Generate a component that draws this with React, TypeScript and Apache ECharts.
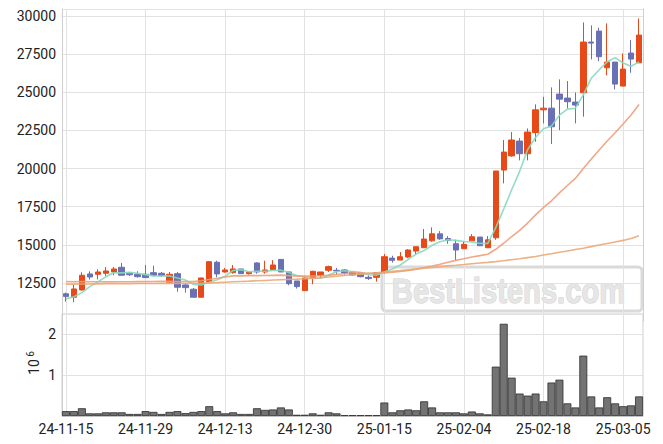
import React, { useEffect, useRef } from "react";
import * as echarts from "echarts";

const dates = [
  "24-11-15", "24-11-18", "24-11-19", "24-11-20", "24-11-21", "24-11-22",
  "24-11-25", "24-11-26", "24-11-27", "24-11-28", "24-11-29",
  "24-12-02", "24-12-03", "24-12-04", "24-12-05", "24-12-06",
  "24-12-09", "24-12-10", "24-12-11", "24-12-12", "24-12-13",
  "24-12-16", "24-12-17", "24-12-18", "24-12-19", "24-12-20",
  "24-12-23", "24-12-24", "24-12-26", "24-12-27", "24-12-30",
  "25-01-02", "25-01-03", "25-01-06", "25-01-07", "25-01-08", "25-01-09", "25-01-10",
  "25-01-13", "25-01-14", "25-01-15", "25-01-16", "25-01-17",
  "25-01-20", "25-01-21", "25-01-22", "25-01-23", "25-01-24",
  "25-01-31", "25-02-03", "25-02-04", "25-02-05", "25-02-06", "25-02-07",
  "25-02-10", "25-02-11", "25-02-12", "25-02-13", "25-02-14",
  "25-02-17", "25-02-18", "25-02-19", "25-02-20", "25-02-21",
  "25-02-24", "25-02-25", "25-02-26", "25-02-27", "25-02-28",
  "25-03-04", "25-03-05", "25-03-06", "25-03-07",
];

const opens = [
  11790, 11563, 12040, 13090, 13070, 13136, 13221, 13530, 13150, 13070,
  13070, 13175, 13136, 12546, 13110, 12369, 12087, 11563, 12585, 13857,
  13221, 13177, 13418, 13110, 13811, 13221, 13380, 14045, 13221, 12631,
  11995, 12808, 13005, 13330, 13330, 13352, 13221, 13110, 12870, 12870,
  13180, 14130, 14000, 14200, 14590, 14810, 15260, 15720, 15410, 15070,
  14740, 15260, 15510, 14810, 15460, 19900, 20830, 21800, 20969, 22350,
  23850, 23960, 24880, 24620, 24357, 24967, 28290, 29010, 26605, 26980,
  25405, 27570, 26930,
];

const closes = [
  11620, 12107, 13005, 12890, 13220, 13287, 13418, 13005, 13040, 12913,
  12850, 13005, 12979, 13070, 12218, 12193, 11563, 12828, 13896, 13090,
  13352, 13418, 13110, 13221, 13221, 13352, 13680, 13221, 12454, 12260,
  12828, 13265, 13221, 13570, 13287, 13155, 13026, 12913, 12790, 13175,
  14220, 13985, 14220, 14660, 14875, 15380, 15720, 15390, 15300, 14660,
  15030, 15530, 14940, 15330, 19840, 21080, 21870, 20970, 22390, 23850,
  23960, 22740, 24550, 24380, 24160, 28290, 28225, 27330, 26980, 25537,
  26520, 27175, 28750,
];

const lows = [
  11280, 11235, 12000, 12718, 12740, 12960, 13005, 13000, 12960, 12850,
  12850, 12913, 12893, 12480, 11930, 11865, 11563, 11563, 12585, 12870,
  13175, 13110, 13110, 13044, 13110, 13110, 13380, 13221, 12350, 12130,
  11995, 12415, 12850, 13221, 13070, 13044, 12980, 12870, 12700, 12585,
  13110, 13830, 14000, 14130, 14330, 14810, 15200, 15330, 15070, 14000,
  14740, 15260, 14940, 14810, 15330, 19030, 20770, 20536, 20536, 21755,
  22960, 21605, 22520, 23944, 22960, 23400, 27155, 27040, 26110, 25190,
  25405, 26280, 26930,
];

const highs = [
  11870, 12370, 13200, 13265, 13396, 13550, 13550, 13810, 13221, 13270,
  13680, 13630, 13221, 13221, 13221, 12480, 12170, 12850, 13920, 13960,
  13483, 13680, 13418, 13221, 13857, 13960, 14000, 14045, 13221, 12631,
  12960, 13300, 13221, 13640, 13483, 13400, 13221, 13110, 13000, 13175,
  14395, 14285, 14525, 14720, 14875, 16040, 16140, 15900, 15570, 15330,
  15200, 15700, 15510, 15570, 19840, 21870, 22390, 21997, 22630, 24206,
  24704, 25320, 25845, 25735, 24990, 29580, 29385, 29230, 29515, 26980,
  27550, 28420, 29840,
];

const volumes = [
  120000, 120000, 190000, 65000, 65000, 90000, 90000, 90000, 50000, 50000,
  120000, 100000, 50000, 100000, 120000, 70000, 100000, 120000, 240000, 120000,
  65000, 90000, 50000, 50000, 190000, 150000, 160000, 210000, 160000, 30000,
  30000, 65000, 30000, 90000, 65000, 20000, 20000, 20000, 20000, 20000,
  330000, 90000, 140000, 160000, 140000, 360000, 210000, 90000, 90000, 90000,
  65000, 110000, 65000, 40000, 1210000, 2260000, 940000, 550000, 500000, 550000,
  360000, 820000, 890000, 310000, 210000, 1480000, 480000, 210000, 460000, 310000,
  240000, 260000, 480000,
];

const ma5 = [
  11470, 11600, 11865, 12260, 12568, 12902, 13164, 13164, 13194, 13133,
  13045, 12963, 12957, 12963, 12824, 12693, 12405, 12374, 12540, 12714,
  12946, 13317, 13373, 13238, 13264, 13264, 13317, 13339, 13186, 12993,
  12889, 12806, 12806, 13029, 13234, 13300, 13252, 13190, 13034, 13012,
  13225, 13417, 13678, 14052, 14392, 14624, 14971, 15205, 15333, 15290,
  15220, 15182, 15092, 15098, 16134, 17344, 18612, 19818, 21230, 22032,
  22608, 22782, 23498, 23896, 23958, 24824, 25921, 26477, 26997, 27272,
  26918, 26708, 26992,
];

const ma20 = [
  12590, 12580, 12590, 12580, 12575, 12570, 12570, 12575, 12580, 12585,
  12590, 12600, 12605, 12610, 12600, 12600, 12590, 12640, 12730, 12810,
  12896, 12962, 12967, 12984, 12984, 12987, 13000, 13011, 12982, 12949,
  12948, 12961, 12973, 12998, 13052, 13100, 13173, 13177, 13122, 13126,
  13169, 13198, 13253, 13325, 13408, 13509, 13611, 13720, 13862, 13982,
  14092, 14205, 14291, 14379, 14707, 15103, 15545, 15948, 16428, 16962,
  17449, 17887, 18403, 18889, 19354, 19999, 20624, 21221, 21805, 22349,
  22924, 23506, 24196,
];

const maLong = [
  12420, 12425, 12430, 12435, 12440, 12445, 12450, 12455, 12458, 12461,
  12464, 12467, 12470, 12473, 12475, 12477, 12478, 12480, 12505, 12525,
  12550, 12575, 12598, 12620, 12643, 12666, 12690, 12712, 12733, 12752,
  12775, 12800, 12845, 12893, 12940, 12987, 13035, 13082, 13130, 13170,
  13215, 13262, 13310, 13360, 13410, 13460, 13515, 13568, 13620, 13665,
  13712, 13760, 13805, 13850, 13900, 13960, 14025, 14090, 14160, 14230,
  14330, 14420, 14510, 14600, 14690, 14780, 14880, 14985, 15090, 15190,
  15290, 15420, 15590,
];

const UP = "#e64a19";
const DOWN = "#6a70b4";
const GRID = "#e2e2e2";
const FRAME = "#cfcfcf";
const FONT = "Roboto";

export default function App() {
  const ref = useRef<HTMLDivElement>(null);
  useEffect(() => {
    if (!ref.current) return;
    const chart = echarts.init(ref.current, undefined, { renderer: "svg" });
    const candles = dates.map((_, i) => [opens[i], closes[i], lows[i], highs[i]]);
    const option: any = {
      animation: false,
      backgroundColor: "#ffffff",
      textStyle: { fontFamily: FONT },
      grid: [
        { left: 62, right: 20, top: 9, height: 312.1, show: false },
        { left: 62, right: 20, top: 314, height: 102, show: true, borderColor: FRAME, borderWidth: 1 },
      ],
      xAxis: [
        {
          type: "category", gridIndex: 0, data: dates, boundaryGap: true,
          axisLine: { show: false }, axisTick: { show: false }, axisLabel: { show: false },
          splitLine: { show: true, interval: 9, alignWithLabel: true, lineStyle: { color: GRID } },
        },
        {
          type: "category", gridIndex: 1, data: dates, boundaryGap: true,
          axisLine: { show: true, lineStyle: { color: FRAME } }, axisTick: { show: false },
          axisLabel: { interval: 9, color: "#222", fontSize: 14, margin: 6, fontFamily: FONT },
          splitLine: { show: true, interval: 9, alignWithLabel: true, lineStyle: { color: GRID } },
        },
      ],
      yAxis: [
        {
          type: "value", gridIndex: 0, min: 10000, max: 30459, interval: 2500,
          axisLine: { show: true, lineStyle: { color: FRAME } }, axisTick: { show: false },
          axisLabel: {
            showMinLabel: false, showMaxLabel: false, color: "#222", fontSize: 14, margin: 6, fontFamily: FONT,
            formatter: (v: number) => String(v),
          },
          splitLine: { show: true, showMinLine: false, lineStyle: { color: GRID } },
        },
        {
          type: "value", gridIndex: 0, position: "right", min: 10000, max: 30459,
          axisLine: { show: true, lineStyle: { color: FRAME } }, axisTick: { show: false },
          axisLabel: { show: false }, splitLine: { show: false },
        },
        {
          type: "value", gridIndex: 1, min: 0, max: 2500000, interval: 1000000,
          axisLine: { show: true, lineStyle: { color: FRAME } }, axisTick: { show: false },
          axisLabel: {
            color: "#222", fontSize: 14, margin: 6, fontFamily: FONT,
            showMaxLabel: false,
            formatter: (v: number) => (v === 0 ? "" : String(v / 1000000)),
          },
          splitLine: { show: true, lineStyle: { color: GRID } },
        },
      ],
      graphic: [
        {
          type: "group", z: 1,
          children: [
            {
              type: "rect", shape: { x: 382, y: 267, width: 260, height: 44, r: 4 },
              style: { fill: "rgba(255,255,255,0.55)", stroke: "#dadada", lineWidth: 3 },
            },
            {
              type: "text", x: 508.5, y: 290, scaleX: 0.81,
              style: {
                text: "BestListens.com", fill: "#e6e6e6", stroke: "#d2d2d2", lineWidth: 1.2,
                font: "bold 36px 'Liberation Sans', sans-serif",
                textAlign: "center", textVerticalAlign: "middle", align: "center", verticalAlign: "middle",
              },
            },
          ],
        },
        {
          type: "text", x: 34, y: 367, rotation: Math.PI / 2,
          style: {
            text: "10", fill: "#222", font: `14px ${FONT}`,
            textAlign: "center", textVerticalAlign: "middle", align: "center", verticalAlign: "middle",
          },
        },
        {
          type: "text", x: 30.5, y: 354, rotation: Math.PI / 2,
          style: {
            text: "6", fill: "#222", font: `10px ${FONT}`,
            textAlign: "center", textVerticalAlign: "middle", align: "center", verticalAlign: "middle",
          },
        },
      ],
      series: [
        {
          type: "candlestick", name: "price", xAxisIndex: 0, yAxisIndex: 0, data: candles,
          barWidth: "74%", z: 3,
          itemStyle: { color: UP, color0: DOWN, borderColor: UP, borderColor0: DOWN, borderWidth: 1 },
        },
        {
          type: "line", name: "MA5", xAxisIndex: 0, yAxisIndex: 0, data: ma5, z: 4,
          showSymbol: false, symbol: "none", lineStyle: { color: "#86d9bd", width: 1.6, opacity: 0.9 },
        },
        {
          type: "line", name: "MA20", xAxisIndex: 0, yAxisIndex: 0, data: ma20, z: 4,
          showSymbol: false, symbol: "none", lineStyle: { color: "#ef9f7a", width: 1.6, opacity: 0.9 },
        },
        {
          type: "line", name: "MA120", xAxisIndex: 0, yAxisIndex: 0, data: maLong, z: 4,
          showSymbol: false, symbol: "none", lineStyle: { color: "#eaa877", width: 1.6, opacity: 0.9 },
        },
        {
          type: "bar", name: "volume", xAxisIndex: 1, yAxisIndex: 2, data: volumes,
          barWidth: "100%", barCategoryGap: "0%",
          itemStyle: { color: "#737373", borderColor: "#2e2e2e", borderWidth: 0.8 },
        },
      ],
    };
    chart.setOption(option);
    return () => chart.dispose();
  }, []);
  return (
    <div
      ref={ref}
      style={{ position: "fixed", left: 0, top: 0, width: 663, height: 444, background: "#fff" }}
    />
  );
}
